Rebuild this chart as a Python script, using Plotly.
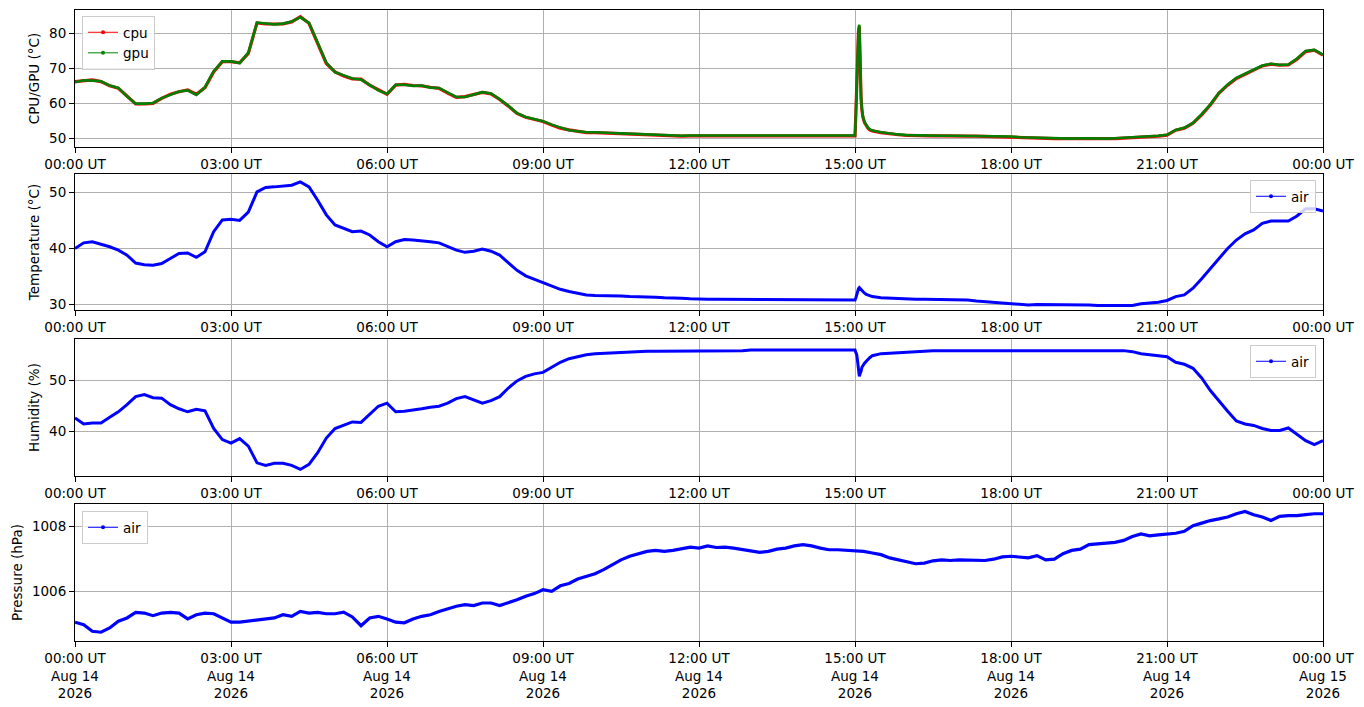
import plotly.graph_objects as go
from datetime import datetime, timedelta

# ---------------- data ----------------
# sample times (minutes after 2026-08-14 00:00 UT)
minutes_fine = (list(range(0, 900, 10))
                + [900, 901, 902, 903, 904, 905, 906, 907, 908, 909, 911, 913, 915, 917]
                + list(range(920, 1441, 10)))
minutes_pressure = list(range(0, 1441, 10))

cpu = [
    66.2, 66.5, 66.7, 66.2, 65.0, 64.3,
    61.9, 59.8, 59.8, 60.0, 61.4, 62.6,
    63.3, 63.8, 62.6, 64.5, 69.0, 71.9,
    71.9, 71.6, 74.3, 83.0, 82.7, 82.7,
    82.7, 83.3, 84.8, 82.9, 77.1, 71.4,
    69.0, 67.8, 67.0, 66.9, 65.2, 63.8,
    62.6, 65.2, 65.4, 65.1, 65.0, 64.6,
    64.3, 62.9, 61.7, 61.9, 62.4, 63.1,
    62.7, 61.1, 59.2, 57.1, 56.0, 55.4,
    54.8, 53.8, 52.9, 52.4, 51.9, 51.6,
    51.6, 51.5, 51.4, 51.3, 51.2, 51.0,
    50.9, 50.8, 50.7, 50.8, 50.6, 50.7,
    50.7, 50.6, 50.8, 50.7, 50.7, 50.6,
    50.7, 50.8, 50.6, 50.7, 50.7, 50.8,
    50.7, 50.6, 50.7, 50.8, 50.6, 50.7,
    50.7, 57.0, 67.0, 75.4, 80.7, 82.0, 67.6, 61.4, 58.1, 56.2, 54.5, 53.6, 52.9, 52.4,
    52.1, 51.6, 51.2, 51.0,
    50.8, 50.7, 50.8, 50.7, 50.7, 50.6,
    50.7, 50.6, 50.6, 50.5, 50.5, 50.4,
    50.4, 50.2, 50.1, 50.0, 49.9, 49.9,
    49.9, 49.8, 49.9, 49.9, 49.8, 49.9,
    49.9, 50.0, 50.1, 50.3, 50.4, 50.6,
    50.9, 52.3, 52.9, 54.3, 56.7, 59.5,
    62.9, 65.2, 67.1, 68.4, 69.5, 70.7,
    71.2, 70.9, 71.0, 72.6, 74.8, 75.2,
    73.8,
]

gpu = [
    66.0, 66.6, 66.5, 66.3, 65.1, 64.4,
    62.0, 59.9, 59.9, 60.1, 61.5, 62.5,
    63.4, 63.7, 62.4, 64.6, 69.2, 72.0,
    72.0, 71.5, 74.5, 83.1, 82.8, 82.6,
    82.8, 83.4, 84.6, 83.0, 77.3, 71.6,
    68.9, 67.9, 67.1, 66.8, 65.3, 63.7,
    62.7, 65.3, 65.3, 65.0, 65.1, 64.5,
    64.4, 63.0, 61.8, 61.8, 62.5, 63.2,
    62.8, 61.2, 59.3, 57.2, 56.1, 55.5,
    54.9, 53.9, 53.0, 52.3, 52.0, 51.7,
    51.7, 51.5, 51.5, 51.4, 51.3, 51.1,
    51.0, 50.9, 50.8, 50.8, 50.7, 50.8,
    50.8, 50.7, 50.8, 50.8, 50.7, 50.7,
    50.8, 50.8, 50.7, 50.8, 50.7, 50.8,
    50.8, 50.7, 50.8, 50.8, 50.7, 50.8,
    50.8, 57.2, 66.7, 75.6, 80.9, 82.5, 67.8, 61.6, 58.3, 56.4, 54.6, 53.7, 53.0, 52.6,
    52.2, 51.7, 51.3, 51.1,
    50.9, 50.8, 50.8, 50.8, 50.7, 50.7,
    50.7, 50.7, 50.6, 50.6, 50.5, 50.5,
    50.5, 50.3, 50.2, 50.1, 50.0, 50.0,
    50.0, 49.9, 50.0, 49.9, 49.9, 49.9,
    50.0, 50.1, 50.2, 50.4, 50.5, 50.7,
    51.0, 52.4, 53.0, 54.4, 56.9, 59.7,
    63.0, 65.4, 67.3, 68.5, 69.7, 70.8,
    71.3, 71.0, 71.1, 72.8, 75.0, 75.3,
    73.9,
]

temperature = [
    40.0, 41.0, 41.2, 40.8, 40.3, 39.7,
    38.8, 37.4, 37.1, 37.0, 37.3, 38.2,
    39.1, 39.2, 38.4, 39.4, 43.0, 45.1,
    45.2, 45.0, 46.5, 50.1, 50.9, 51.0,
    51.1, 51.3, 51.9, 51.0, 48.6, 46.0,
    44.2, 43.6, 43.0, 43.1, 42.4, 41.2,
    40.3, 41.2, 41.6, 41.5, 41.4, 41.2,
    41.0, 40.4, 39.7, 39.3, 39.5, 39.9,
    39.5, 38.8, 37.4, 36.1, 35.1, 34.5,
    33.9, 33.2, 32.7, 32.3, 32.0, 31.7,
    31.6, 31.6, 31.5, 31.5, 31.4, 31.4,
    31.3, 31.3, 31.2, 31.2, 31.1, 31.0,
    30.9, 30.9, 30.9, 30.9, 30.9, 30.8,
    30.8, 30.8, 30.8, 30.8, 30.8, 30.8,
    30.8, 30.8, 30.8, 30.8, 30.8, 30.8,
    30.8, 31.2, 31.8, 32.4, 32.8, 33.0, 32.8, 32.6, 32.4, 32.2, 32.0, 31.8, 31.7, 31.6,
    31.4, 31.2, 31.1, 31.0,
    31.0, 30.9, 30.9, 30.9, 30.9, 30.9,
    30.8, 30.8, 30.6, 30.5, 30.3, 30.2,
    30.1, 30.0, 29.9, 30.0, 30.0, 30.0,
    30.0, 30.0, 30.0, 29.9, 29.8, 29.8,
    29.8, 29.8, 29.8, 30.1, 30.2, 30.4,
    30.7, 31.4, 31.7, 32.9, 34.6, 36.4,
    38.4, 40.0, 41.5, 42.6, 43.3, 44.5,
    44.9, 44.9, 44.9, 45.8, 47.1, 47.1,
    46.7,
]

humidity = [
    42.6, 41.4, 41.6, 41.6, 42.7, 43.8,
    45.2, 46.8, 47.2, 46.6, 46.5, 45.2,
    44.4, 43.8, 44.3, 44.0, 40.5, 38.3,
    37.6, 38.5, 37.0, 33.7, 33.2, 33.6,
    33.6, 33.2, 32.4, 33.4, 35.7, 38.6,
    40.5, 41.1, 41.8, 41.7, 43.4, 44.9,
    45.5, 43.8, 43.9, 44.1, 44.4, 44.7,
    44.9, 45.5, 46.4, 46.8, 46.2, 45.5,
    46.0, 46.8, 48.5, 49.9, 50.8, 51.3,
    51.6, 52.6, 53.6, 54.3, 54.7, 55.1,
    55.3, 55.4, 55.5, 55.6, 55.7, 55.7,
    55.8, 55.8, 55.8, 55.8, 55.8, 55.8,
    55.8, 55.8, 55.8, 55.8, 55.8, 55.9,
    56.0, 56.0, 56.0, 56.0, 56.0, 56.0,
    56.0, 56.0, 56.0, 56.0, 56.0, 56.0,
    56.0, 55.5, 55.1, 53.8, 52.4, 50.8, 51.4, 51.8, 52.6, 52.9, 53.4, 53.8, 54.2, 54.5,
    54.9, 55.3, 55.4, 55.5,
    55.7, 55.7, 55.8, 55.9, 55.9, 55.9,
    56.0, 56.0, 56.0, 56.0, 56.0, 56.0,
    56.0, 56.0, 56.0, 56.0, 56.0, 56.0,
    56.0, 56.0, 56.0, 56.0, 56.0, 56.0,
    56.0, 55.9, 55.7, 55.3, 55.1, 54.9,
    54.7, 53.6, 53.2, 52.4, 50.5, 48.0,
    45.9, 43.9, 42.0, 41.4, 41.1, 40.5,
    40.1, 40.1, 40.6, 39.3, 38.1, 37.3,
    38.1,
]

pressure = [
    1005.04, 1004.96, 1004.76, 1004.73, 1004.86, 1005.07,
    1005.17, 1005.34, 1005.32, 1005.24, 1005.32, 1005.34,
    1005.32, 1005.14, 1005.27, 1005.32, 1005.30, 1005.17,
    1005.04, 1005.04, 1005.07, 1005.09, 1005.12, 1005.17,
    1005.27, 1005.22, 1005.37, 1005.32, 1005.34, 1005.30,
    1005.30, 1005.35, 1005.20, 1004.93, 1005.17, 1005.22,
    1005.14, 1005.04, 1005.02, 1005.14, 1005.22, 1005.27,
    1005.37, 1005.45, 1005.53, 1005.58, 1005.55, 1005.63,
    1005.63, 1005.55, 1005.63, 1005.73, 1005.84, 1005.92,
    1006.04, 1005.99, 1006.16, 1006.23, 1006.37, 1006.45,
    1006.53, 1006.66, 1006.81, 1006.96, 1007.07, 1007.15,
    1007.22, 1007.25, 1007.22, 1007.25, 1007.29, 1007.35,
    1007.32, 1007.39, 1007.34, 1007.35, 1007.32, 1007.27,
    1007.22, 1007.19, 1007.22, 1007.29, 1007.32, 1007.39,
    1007.43, 1007.39, 1007.32, 1007.27, 1007.27, 1007.25,
    1007.22, 1007.22, 1007.17, 1007.12, 1007.02, 1006.96,
    1006.88, 1006.84, 1006.86, 1006.93, 1006.96, 1006.94,
    1006.96, 1006.96, 1006.94, 1006.94, 1006.98, 1007.05,
    1007.07, 1007.05, 1007.02, 1007.09, 1006.96, 1006.98,
    1007.15, 1007.25, 1007.29, 1007.43, 1007.46, 1007.48,
    1007.50, 1007.56, 1007.68, 1007.76, 1007.70, 1007.73,
    1007.76, 1007.78, 1007.84, 1008.01, 1008.09, 1008.17,
    1008.22, 1008.28, 1008.38, 1008.45, 1008.35, 1008.28,
    1008.17, 1008.30, 1008.32, 1008.32, 1008.35, 1008.38,
    1008.38,
]

tick_hours = [0, 3, 6, 9, 12, 15, 18, 21, 24]
tick_dates = ["Aug 14"] * 8 + ["Aug 15"]
tick_year = "2026"

assert len(cpu) == len(minutes_fine) == len(gpu) == len(temperature) == len(humidity)
assert len(pressure) == len(minutes_pressure)

# ---------------- figure ----------------
base = datetime(2026, 8, 14)
t_fine = [base + timedelta(minutes=m) for m in minutes_fine]
t_pres = [base + timedelta(minutes=m) for m in minutes_pressure]
tickvals = [base + timedelta(hours=h) for h in tick_hours]
ticktext = [f"{h % 24:02d}:00 UT" for h in tick_hours]
ticktext_bottom = [f"{h % 24:02d}:00 UT<br>{d}<br>{tick_year}" for h, d in zip(tick_hours, tick_dates)]

FONT = "DejaVu Sans"
FS = 13.5
OFF = 8                      # page body margin of the browser
W, H = 1364 - OFF, 707 - OFF
# plot-area box in screen pixels
SL, SR, ST, SB = 75, 1323, 10, 641
PL, PR, PT, PB = SL - OFF, SR - OFF, ST - OFF, SB - OFF

def fy(px):
    return (SB - px) / (SB - ST)

def lx(px):
    return (px - SL) / (SR - SL)

panels = [(10, 147), (174, 310), (339, 476), (504, 641)]
yranges = [[47.5, 86.7], [29.0, 53.3], [31.1, 58.2], [1004.46, 1008.68]]
ytickvals = [[50, 60, 70, 80], [30, 40, 50], [40, 50], [1006, 1008]]
ytitles = ["CPU/GPU (°C)", "Temperature (°C)", "Humidity (%)", "Pressure (hPa)"]

fig = go.Figure()

def add(x, y, color, i, width=3):
    fig.add_trace(go.Scatter(
        x=x, y=y, mode="lines", line=dict(color=color, width=width),
        showlegend=False, xaxis="x" if i == 0 else f"x{i+1}",
        yaxis="y" if i == 0 else f"y{i+1}", hoverinfo="skip"))

def add_leg(name, color, i, legend):
    fig.add_trace(go.Scatter(
        x=[None], y=[None], mode="lines+markers", name=name,
        line=dict(color=color, width=1), marker=dict(color=color, size=4),
        legend=legend, xaxis="x" if i == 0 else f"x{i+1}",
        yaxis="y" if i == 0 else f"y{i+1}"))

add(t_fine, cpu, "red", 0, 3.2)
add(t_fine, gpu, "green", 0, 2.6)
add(t_fine, temperature, "blue", 1)
add(t_fine, humidity, "blue", 2)
add(t_pres, pressure, "blue", 3, 3.2)

add_leg("cpu", "red", 0, "legend")
add_leg("gpu", "green", 0, "legend")
add_leg("air", "blue", 1, "legend2")
add_leg("air", "blue", 2, "legend3")
add_leg("air", "blue", 3, "legend4")

layout = dict(
    width=W, height=H,
    margin=dict(l=PL, r=W - PR, t=PT, b=H - PB, autoexpand=False),
    paper_bgcolor="white", plot_bgcolor="white",
    font=dict(family=FONT, size=FS, color="black"),
)
for i, ((top, bot), yr, ytv, yt) in enumerate(zip(panels, yranges, ytickvals, ytitles)):
    xs = "" if i == 0 else str(i + 1)
    layout[f"xaxis{xs}"] = dict(
        domain=[0, 1], anchor=f"y{xs}", range=[base, base + timedelta(hours=24)],
        tickmode="array", tickvals=tickvals,
        ticktext=ticktext_bottom if i == 3 else ticktext,
        showgrid=True, gridcolor="#b0b0b0", gridwidth=1,
        showline=True, linecolor="black", linewidth=1, mirror=True,
        ticks="outside", ticklen=5, tickcolor="black", zeroline=False,
        automargin=False,
        tickfont=dict(family=FONT, size=FS, color="black"),
    )
    layout[f"yaxis{xs}"] = dict(
        domain=[fy(bot), fy(top)], anchor=f"x{xs}", range=yr,
        tickmode="array", tickvals=ytv,
        showgrid=True, gridcolor="#b0b0b0", gridwidth=1,
        showline=True, linecolor="black", linewidth=1, mirror=True,
        ticks="outside", ticklen=5, tickcolor="black", zeroline=False,
        automargin=False,
        tickfont=dict(family=FONT, size=FS, color="black"),
        title=dict(text=yt, font=dict(family=FONT, size=FS, color="black"), standoff=6),
    )

leg_common = dict(bgcolor="rgba(255,255,255,0.8)", bordercolor="#cccccc", borderwidth=1,
                  font=dict(family=FONT, size=FS, color="black"), itemwidth=30,
                  tracegroupgap=0)

layout["legend"] = dict(x=lx(82), y=fy(16), xanchor="left", yanchor="top", **leg_common)
layout["legend2"] = dict(x=lx(1316), y=fy(180), xanchor="right", yanchor="top", **leg_common)
layout["legend3"] = dict(x=lx(1316), y=fy(345), xanchor="right", yanchor="top", **leg_common)
layout["legend4"] = dict(x=lx(82), y=fy(511), xanchor="left", yanchor="top", **leg_common)

fig.update_layout(**layout)
fig.write_html("out.html")
